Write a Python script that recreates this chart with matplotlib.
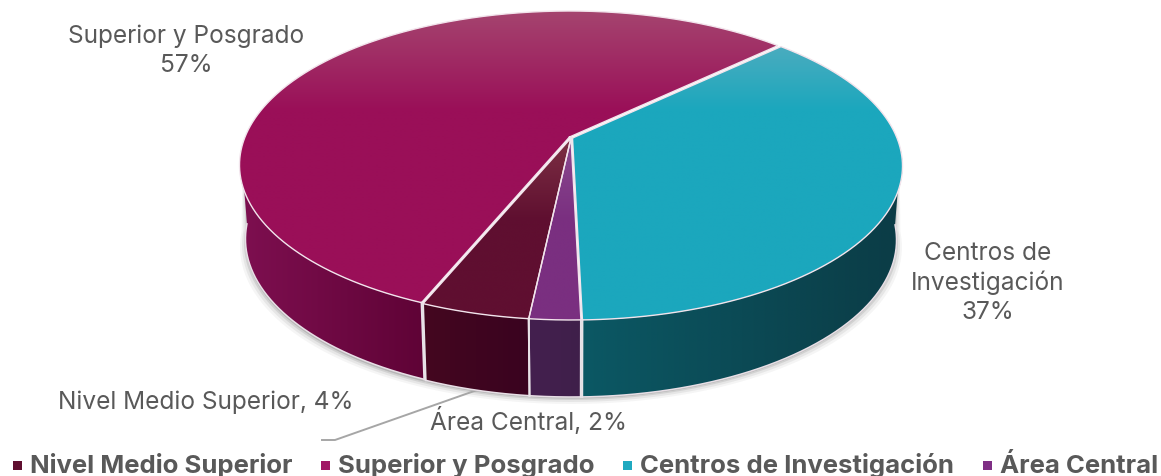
import numpy as np
import matplotlib
matplotlib.use('Agg')
import matplotlib.pyplot as plt
from matplotlib.colors import to_rgb
from matplotlib.patches import Polygon, Rectangle

# Datos
categorias = ['Nivel Medio Superior', 'Superior y Posgrado', 'Centros de Investigación', 'Área Central']
valores = [4.49, 56.67, 36.74, 2.1]

# Colores de la cara superior: (arriba, abajo)
col_top = [('#7d3044', '#5f0f30'), ('#a5446f', '#9a0f58'), ('#4aacbf', '#1ba7bd'), ('#8b4a8f', '#7a2f80')]
# Colores del lateral: (izquierda, derecha)
col_side = [('#44071f', '#3a0320'), ('#7e0f50', '#5f0336'), ('#0b5864', '#0b3c46'), ('#44204f', '#3f1f4a')]
col_leg = ['#5f0f30', '#a01765', '#1fa9c0', '#7f2f85']

# Separación de cada rebanada (px)
explode = [(0, 0), (-1.5, -1), (1.5, 0), (0, 0)]

gris = '#595959'
ANGULO_INICIO = 46.3 + 360 - (valores[0] + valores[1]) * 3.6

# Geometría de la tarta en perspectiva
CX, CY = 571, 138
A, C, P = 324.5, 148.9, 0.1818


def rim(theta):
    t = np.radians(theta)
    u, v = np.sin(t), np.cos(t)
    d = 1 + P * v
    return CX + A * u / d, CY - C * v / d


def bottom(x, y):
    return CX + (x - CX) * 0.982, y + 74 + 3 * (y - 166) / 154


def gradient(ax, poly, c1, c2, horizontal=False, stop=1.0):
    pts = np.array(poly)
    x0, x1 = pts[:, 0].min(), pts[:, 0].max()
    y0, y1 = pts[:, 1].min(), pts[:, 1].max()
    s = np.clip(np.linspace(0, 1, 200) / stop, 0, 1)
    c = np.outer(1 - s, to_rgb(c1)) + np.outer(s, to_rgb(c2))
    img = c[None, :, :] if horizontal else c[:, None, :]
    im = ax.imshow(img, extent=(x0, x1, y1, y0), aspect='auto', interpolation='bilinear', zorder=3)
    patch = Polygon(pts, closed=True, transform=ax.transData, fc='none', ec='none')
    ax.add_patch(patch)
    im.set_clip_path(patch)
    return im


fig, ax = plt.subplots(figsize=(11.61, 4.76), dpi=100)
ax.set_position([0, 0, 1, 1])
plt.rcParams['font.family'] = ['Inter', 'DejaVu Sans']

# Ángulos de cada rebanada
bordes = ANGULO_INICIO + np.concatenate([[0], np.cumsum(valores)]) * 3.6

# Sombra bajo la tarta
th = np.linspace(95, 265, 200)
xs, ys = rim(th)
xb, yb = bottom(xs, ys)
for off, al in [(7, 0.05), (5, 0.08), (3, 0.12), (1.5, 0.18)]:
    sx = CX + (xb - CX) * (1 + off / 330)
    ax.fill(np.r_[xs, sx[::-1]], np.r_[ys, yb[::-1] + off], color='#404040', alpha=al, lw=0, zorder=1)

# Leader line
ax.plot([322, 335, 480], [440, 440, 389], color='#a6a6a6', lw=1.4, zorder=2)

# Laterales
for i in range(len(valores)):
    a0, a1 = bordes[i], bordes[i + 1]
    if a0 >= 360:
        a0, a1 = a0 - 360, a1 - 360
    # solo la parte frontal es visible
    lo, hi = max(a0, 95), min(a1, 265)
    if hi <= lo:
        continue
    th = np.linspace(lo, hi, 200)
    xs, ys = rim(th)
    xs, ys = xs + explode[i][0], ys + explode[i][1]
    xb, yb = bottom(xs, ys)
    poly = np.c_[np.r_[xs, xb[::-1]], np.r_[ys, yb[::-1]]]
    gradient(ax, poly, col_side[i][0], col_side[i][1], horizontal=True)
    ax.plot(xb, yb, color='#e8dfe6', lw=1.1, zorder=4)
    # verticales en los bordes que se ven
    for a, x, y in [(a0, xs[0], ys[0]), (a1, xs[-1], ys[-1])]:
        if 100 < a < 260:
            xe, ye = bottom(x, y)
            ax.plot([x, xe], [y, ye], color='#e8e3e8', lw=1.4, zorder=4)

# Caras superiores
for i in range(len(valores)):
    th = np.linspace(bordes[i], bordes[i + 1], 400)
    xs, ys = rim(th)
    dx, dy = explode[i]
    poly = np.c_[np.r_[CX, xs, CX] + dx, np.r_[CY, ys, CY] + dy]
    # las dos grandes se aclaran arriba, las pequeñas cerca del vértice
    y_top, y_bot = poly[:, 1].min(), poly[:, 1].max()
    stop = (110 - y_top) / (y_bot - y_top) if y_top < 100 else 0.45
    gradient(ax, poly, col_top[i][0], col_top[i][1], stop=stop)
    ax.plot(poly[:, 0], poly[:, 1], color='#f2e4ec', lw=1.0, zorder=5, solid_joinstyle='miter')

# Etiquetas
fs = 17.6
pct = [f'{round(v)}%' for v in valores]
ax.text(206, 402, f'{categorias[0]}, {pct[0]}', color=gris, fontsize=fs, ha='center', va='center', zorder=6)
ax.text(186, 51, f'Superior y Posgrado\n{pct[1]}', color=gris, fontsize=fs, ha='center', va='center', linespacing=1.32, zorder=6)
ax.text(988, 283, f'Centros de\nInvestigación\n{pct[2]}', color=gris, fontsize=fs, ha='center', va='center', linespacing=1.32, zorder=6)
ax.text(529, 421, f'Área Central, {pct[3]}', color=gris, fontsize=fs, ha='center', va='center', zorder=6)

# Leyenda
leg_x = [30, 338, 640, 1000]
for nombre, x, c in zip(categorias, leg_x, col_leg):
    ax.add_patch(Rectangle((x - 17, 461), 9, 9, color=c, lw=0, zorder=6))
    ax.text(x, 473, nombre, color=gris, fontsize=18.5, fontweight='bold', ha='left', va='baseline', zorder=6)

ax.set_xlim(0, 1161)
ax.set_ylim(476, 0)
ax.axis('off')

fig.savefig('out.png', dpi=100)
